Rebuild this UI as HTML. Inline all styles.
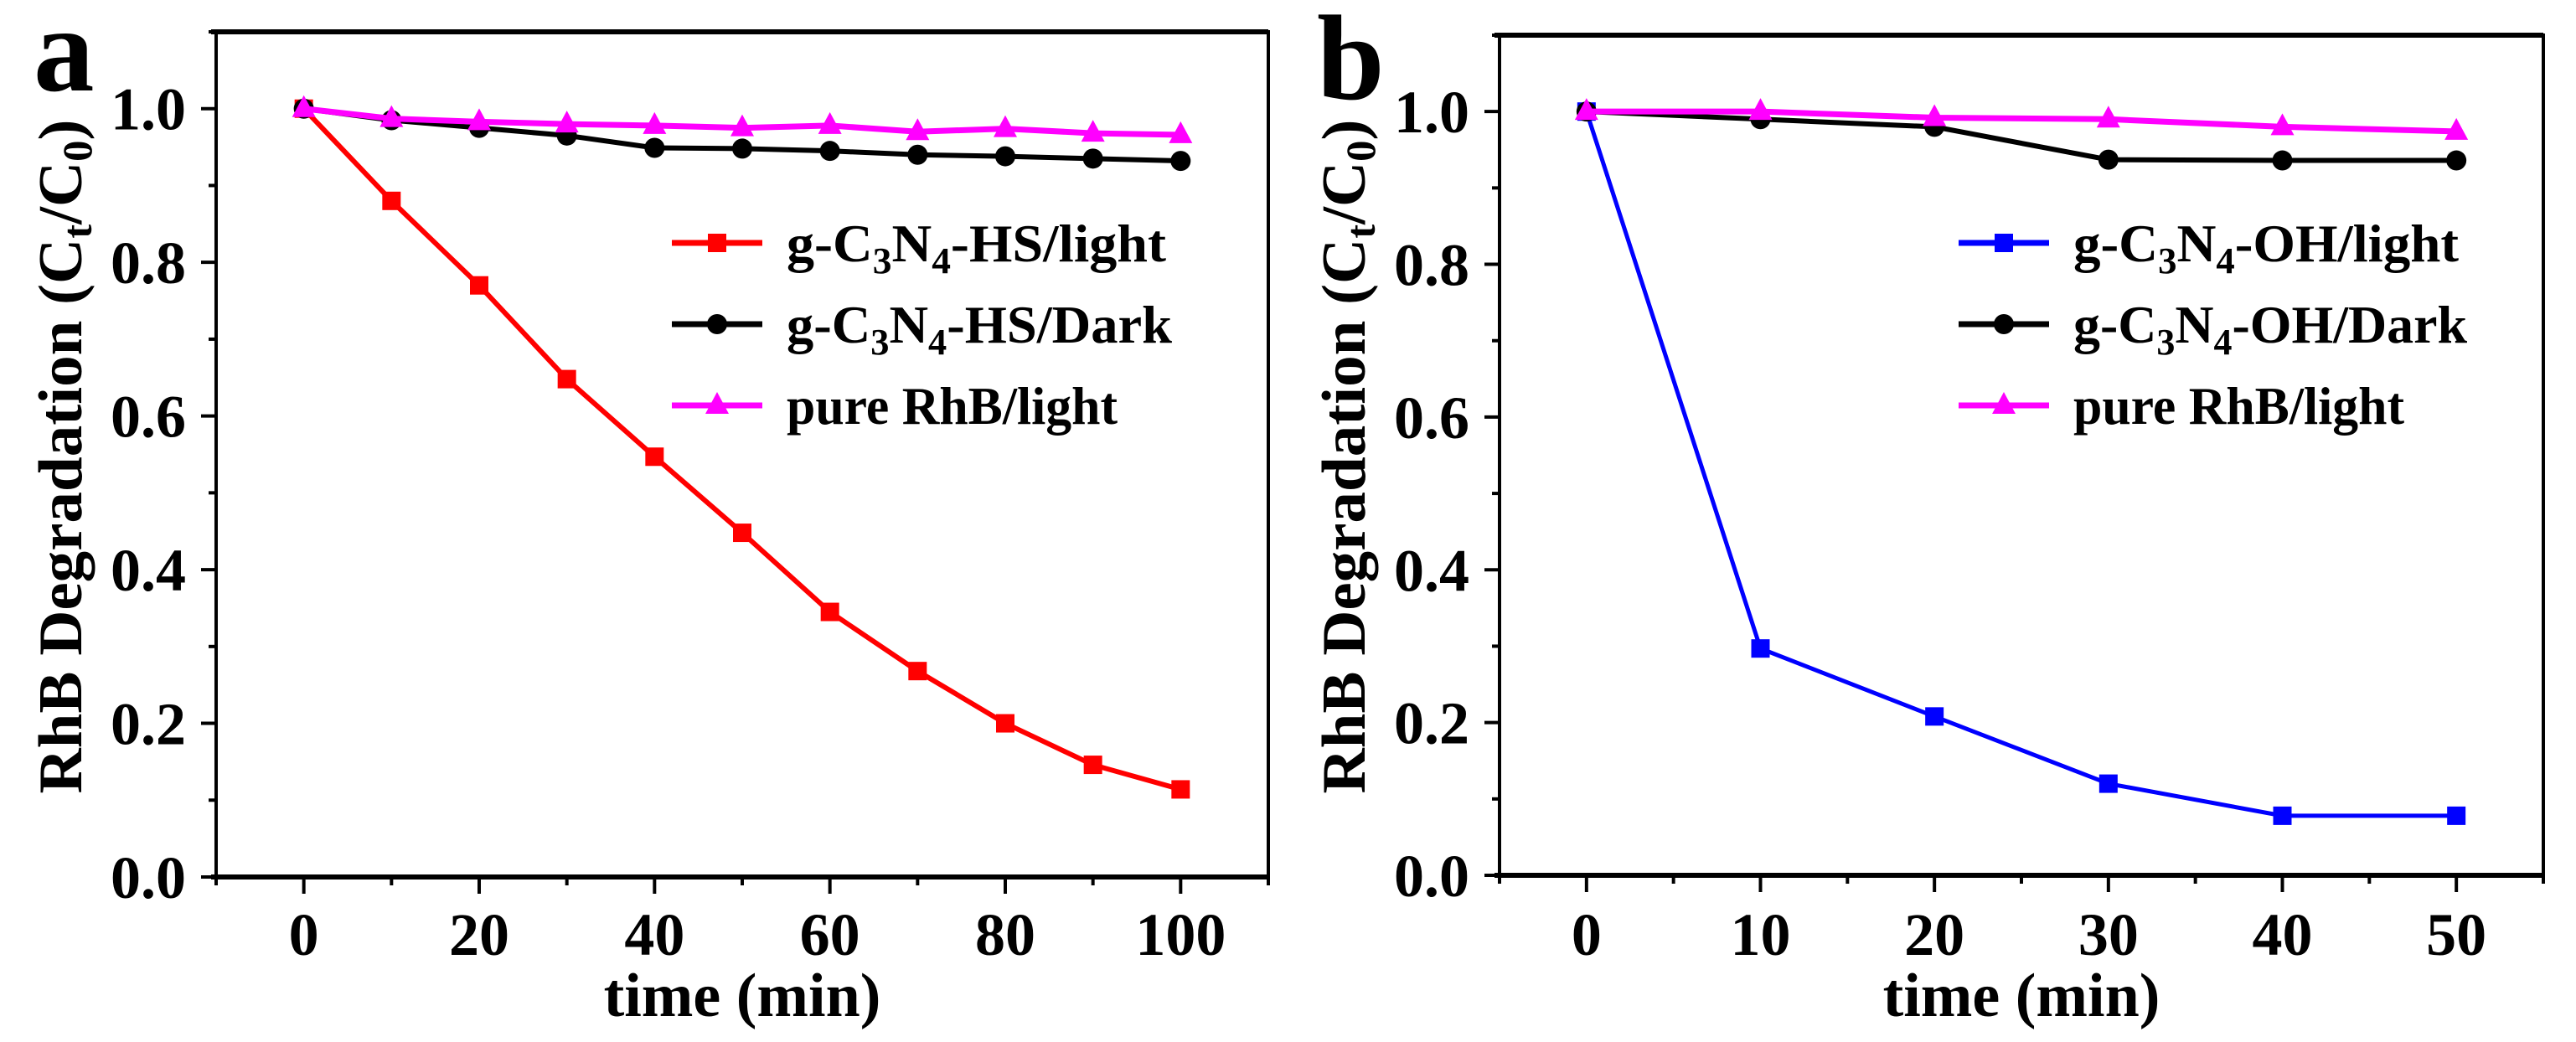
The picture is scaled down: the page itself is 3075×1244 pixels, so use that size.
<!DOCTYPE html>
<html><head><meta charset="utf-8"><style>
html,body{margin:0;padding:0;background:#fff;}
svg{display:block;}
svg text{font-family:"Liberation Serif","Times New Roman",serif;font-weight:bold;}
</style></head><body>
<svg id="fig" width="3075" height="1244" viewBox="0 0 3075 1244" xmlns="http://www.w3.org/2000/svg"></svg>
<script>
// Panel a data
const timeA = [0,10,20,30,40,50,60,70,80,90,100];
const hsLight = [1.0,0.88,0.77,0.648,0.547,0.448,0.345,0.268,0.2,0.146,0.114];
const hsDark = [1.0,0.985,0.975,0.965,0.949,0.948,0.945,0.94,0.938,0.935,0.932];
const rhbA = [1.0,0.987,0.983,0.98,0.978,0.975,0.978,0.97,0.974,0.968,0.966];
const xTicksA = [0,20,40,60,80,100];
// Panel b data
const timeB = [0,10,20,30,40,50];
const ohLight = [1.0,0.297,0.208,0.12,0.078,0.078];
const ohDark = [1.0,0.99,0.98,0.937,0.936,0.936];
const rhbB = [1.0,1.0,0.992,0.99,0.98,0.974];
const xTicksB = [0,10,20,30,40,50];
const yTicks = [0.0,0.2,0.4,0.6,0.8,1.0];

const NS="http://www.w3.org/2000/svg";
const svg=document.getElementById('fig');
function mk(tag,attrs,parent){const e=document.createElementNS(NS,tag);for(const k in attrs)e.setAttribute(k,attrs[k]);(parent||svg).appendChild(e);return e;}

function panel(cfg){
  const g=mk('g',{});
  
  
  const X=v=>cfg.x0+(v-cfg.xmin)/(cfg.xmax-cfg.xmin)*(cfg.x1-cfg.x0);
  const Y=v=>cfg.y0-(v-0)/(1.1)*(cfg.y0-cfg.y1);
  const fr=mk('rect',{x:cfg.x0,y:cfg.y1,width:cfg.x1-cfg.x0,height:cfg.y0-cfg.y1,fill:'none',stroke:'#000','stroke-width':4},g);
  
  
  mk('line',{x1:cfg.x0-6,x2:cfg.x1,y1:cfg.y0,y2:cfg.y0,stroke:'#000','stroke-width':6},g);
  mk('line',{x1:cfg.x0-6,x2:cfg.x1,y1:cfg.y1,y2:cfg.y1,stroke:'#000','stroke-width':6},g);
  for(let v=cfg.xmin;v<=cfg.xmax+1e-9;v+=cfg.minor){
    const major=cfg.xticks.some(t=>Math.abs(t-v)<1e-9);
    mk('line',{x1:X(v),x2:X(v),y1:cfg.y0,y2:cfg.y0+(major?20:10),stroke:'#000','stroke-width':4},g);
  }
  cfg.xticks.forEach(t=>{
    const tx=mk('text',{x:X(t),y:1140,'font-size':72,'text-anchor':'middle'},g);
    tx.textContent=t;
    
    
  });
  for(let v=0;v<=1.1+1e-9;v+=0.1){
    const major=Math.round(v*10)%2===0;
    mk('line',{x1:cfg.x0,x2:cfg.x0-(major?18:9),y1:Y(v),y2:Y(v),stroke:'#000','stroke-width':4},g);
  }
  yTicks.forEach(t=>{
    const tx=mk('text',{x:cfg.x0-36,y:Y(t)+25,'font-size':72,'text-anchor':'end'},g);
    tx.textContent=t.toFixed(1);
    
    
  });
  const xt=mk('text',{x:(X(cfg.xticks[0])+X(cfg.xticks[cfg.xticks.length-1]))/2,y:1213,'font-size':74,'text-anchor':'middle'},g);
  xt.textContent='time (min)';
  
  
  const yt=mk('text',{x:0,y:0,'font-size':74,'text-anchor':'middle',transform:`translate(${cfg.x0-161},545) rotate(-90)`,textLength:805,lengthAdjust:'spacingAndGlyphs'},g);
  yt.innerHTML='RhB Degradation (C<tspan baseline-shift="-12" font-size="50">t</tspan>/C<tspan baseline-shift="-12" font-size="50">0</tspan>)';
  
  
  const pl=mk('text',{x:cfg.x0-218,y:cfg.letterY,'font-size':145},g);
  pl.textContent=cfg.letter;
  
  
  cfg.series.forEach((s,i)=>{
    const sg=mk('g',{},g);
    
    
    const pts=cfg.time.map((t,j)=>X(t)+','+Y(s.vals[j])).join(' ');
    mk('polyline',{points:pts,fill:'none',stroke:s.color,'stroke-width':s.w},sg);
    cfg.time.forEach((t,j)=>{
      const m=marker(s.shape,X(t),Y(s.vals[j]),s.color,sg);
      
      
    });
  });
  cfg.series.forEach((s,i)=>{
    const ly=cfg.legY+i*97;
    const lg=mk('g',{},g);
    
    
    mk('line',{x1:cfg.legX,x2:cfg.legX+108,y1:ly,y2:ly,stroke:s.color,'stroke-width':7},lg);
    marker(s.shape,cfg.legX+54,ly,s.color,lg);
    const tx=mk('text',{x:cfg.legX+137,y:ly+22,'font-size':64,textLength:s.lw,lengthAdjust:'spacingAndGlyphs'},lg);
    tx.innerHTML=s.label;
  });
}
function marker(shape,x,y,c,p){
  if(shape==='sq')return mk('rect',{x:x-11,y:y-11,width:22,height:22,fill:c},p);
  if(shape==='ci')return mk('circle',{cx:x,cy:y,r:12,fill:c},p);
  return mk('polygon',{points:`${x},${y-16} ${x-14},${y+10} ${x+14},${y+10}`,fill:c},p);
}
const sub=(a)=>`<tspan baseline-shift="-14" font-size="44">${a}</tspan>`;
panel({name:'panel-a',letter:'a',letterY:108,x0:258,x1:1514,y0:1047,y1:38,xmin:-10,xmax:110,minor:10,xticks:xTicksA,time:timeA,legX:802,legY:290,
  series:[
   {key:'hs-light',vals:hsLight,color:'#ff0000',shape:'sq',w:6,label:`g-C${sub(3)}N${sub(4)}-HS/light`,lw:453},
   {key:'hs-dark',vals:hsDark,color:'#000000',shape:'ci',w:6,label:`g-C${sub(3)}N${sub(4)}-HS/Dark`,lw:460},
   {key:'rhb-light',vals:rhbA,color:'#ff00ff',shape:'tri',w:7,label:'pure RhB/light',lw:395}
  ]});
panel({name:'panel-b',letter:'b',letterY:118,x0:1790,x1:3036,y0:1045,y1:42,xmin:-5,xmax:55,minor:5,xticks:xTicksB,time:timeB,legX:2338,legY:290,
  series:[
   {key:'oh-light',vals:ohLight,color:'#0000ff',shape:'sq',w:5,label:`g-C${sub(3)}N${sub(4)}-OH/light`,lw:460},
   {key:'oh-dark',vals:ohDark,color:'#000000',shape:'ci',w:6,label:`g-C${sub(3)}N${sub(4)}-OH/Dark`,lw:470},
   {key:'rhb-light-b',vals:rhbB,color:'#ff00ff',shape:'tri',w:7,label:'pure RhB/light',lw:395}
  ]});
</script>
</body></html>
